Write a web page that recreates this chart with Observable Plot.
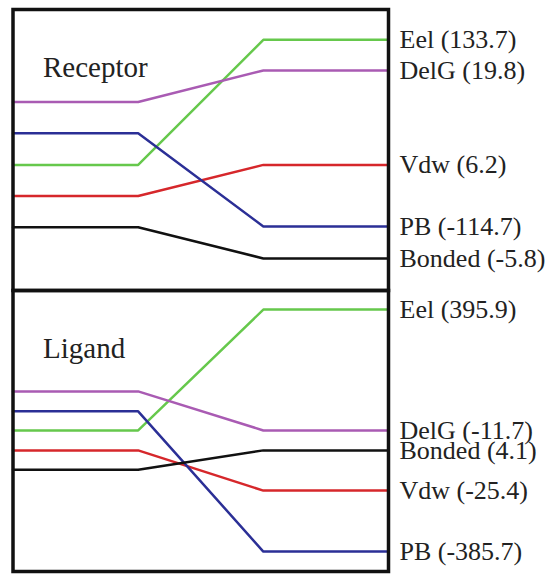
<!DOCTYPE html>
<html>
<head>
<meta charset="utf-8">
<script src="https://cdn.jsdelivr.net/npm/d3@7"></script>
<script src="https://cdn.jsdelivr.net/npm/@observablehq/plot@0.6"></script>
<style>
  html, body { margin: 0; padding: 0; background: white; }
  #chart svg { display: block; }
  #chart svg text { font-family: "Liberation Serif", "Times New Roman", serif !important; }
</style>
</head>
<body>
<div id="chart"></div>
<script>
// Panels and energy terms
const panels = ["Receptor", "Ligand"];
const terms = ["Eel", "DelG", "Vdw", "PB", "Bonded"];
const termColors = ["#66c84c", "#a95bb3", "#d6272b", "#2b2f96", "#111111"];

// Energy values shown in the labels
const receptorEnergy = [133.7, 19.8, 6.2, -114.7, -5.8];
const ligandEnergy = [395.9, -11.7, -25.4, -385.7, 4.1];

// Relative level of each line (0 = panel bottom, 100 = panel top)
const receptorStart = [44.7, 67.1, 33.6, 56.0, 22.5];
const receptorEnd = [89.2, 78.3, 44.7, 22.8, 11.4];
const ligandStart = [50.2, 64.1, 43.1, 57.0, 36.2];
const ligandEnd = [93.2, 50.2, 28.8, 7.1, 43.1];

// Step positions: flat, transition, flat
const steps = [0, 1, 2, 3];

const rows = [];
const labels = [];
function addPanel(panel, start, end, energy) {
  terms.forEach((t, i) => {
    steps.forEach(s => {
      rows.push({panel, term: t, x: s, v: s < 2 ? start[i] : end[i]});
    });
    labels.push({panel, term: t, x: steps[3], v: end[i], text: `${t} (${energy[i]})`});
  });
}
addPanel("Receptor", receptorStart, receptorEnd, receptorEnergy);
addPanel("Ligand", ligandStart, ligandEnd, ligandEnergy);

const titles = panels.map(p => ({panel: p}));
const serif = "Liberation Serif";

const chart = Plot.plot({
  width: 552,
  height: 574,
  marginLeft: 12.5,
  marginRight: 164,
  marginTop: 9,
  marginBottom: 3,
  style: {background: "white", overflow: "visible"},
  x: {domain: [0, 3], axis: null},
  y: {domain: [0, 100], axis: null},
  fy: {domain: panels, axis: null, padding: 0},
  color: {domain: terms, range: termColors},
  marks: [
    Plot.line(rows, {x: "x", y: "v", z: "term", stroke: "term", fy: "panel", strokeWidth: 2.5, strokeLinejoin: "miter"}),
    Plot.frame({stroke: "#111", strokeWidth: 3.5}),
    Plot.text(titles, {fy: "panel", text: "panel", frameAnchor: "top-left", lineAnchor: "bottom", textAnchor: "start", dx: 30, dy: 67, fontSize: 29, fill: "#222", fontFamily: serif}),
    Plot.text(labels, {x: "x", y: "v", fy: "panel", text: "text", textAnchor: "start", lineAnchor: "middle", dx: 11, fontSize: 26, fill: "#222", fontFamily: serif})
  ]
});
document.getElementById("chart").appendChild(chart);
</script>
</body>
</html>
